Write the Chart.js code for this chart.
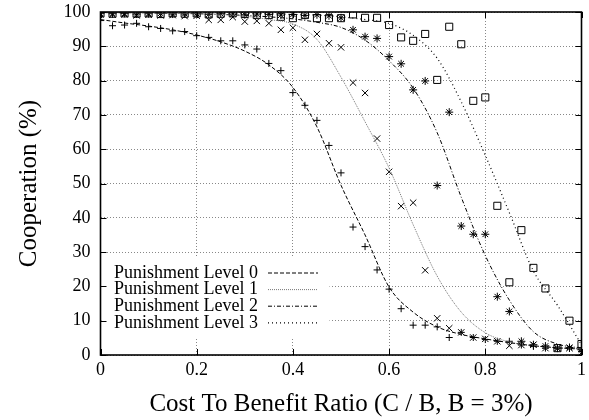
<!DOCTYPE html>
<html>
<head>
<meta charset="utf-8">
<script src="https://cdn.jsdelivr.net/npm/chart.js@4.4.0/dist/chart.umd.min.js"></script>
<style>
    html, body { margin: 0; padding: 0; background: #fff; }
    #wrap { width: 589px; height: 420px; }
</style>
</head>
<body>
<div id="wrap"><canvas id="coopChart" width="589" height="420"></canvas></div>
<script>
// x positions of the simulation runs (cost / benefit ratio)
const runX = [0, 0.025, 0.05, 0.075, 0.1, 0.125, 0.15, 0.175, 0.2, 0.225, 0.25, 0.275, 0.3, 0.325,
    0.35, 0.375, 0.4, 0.425, 0.45, 0.475, 0.5, 0.525, 0.55, 0.575, 0.6, 0.625, 0.65, 0.675, 0.7,
    0.725, 0.75, 0.775, 0.8, 0.825, 0.85, 0.875, 0.9, 0.925, 0.95, 0.975, 1];

// measured cooperation (%) for each punishment level
const level0Runs = [97.5, 96.0, 96.2, 96.7, 95.7, 95.2, 94.5, 94.3, 93.1, 92.6, 91.6, 91.6, 90.4, 89.2,
    85.0, 82.9, 76.5, 72.8, 68.4, 61.1, 53.1, 37.3, 31.6, 24.8, 19.2, 13.5, 8.7, 8.7, 8.2,
    5.1, 6.6, 5.1, 4.5, 4.0, 4.0, 2.9, 2.5, 2.0, 2.0, 1.9, 1.0];
const level1Runs = [99.3, 99.2, 99.3, 99.0, 99.2, 99.0, 99.1, 98.8, 98.9, 97.7, 97.7, 98.5, 97.2, 97.4,
    96.7, 94.8, 95.4, 91.9, 93.6, 90.9, 89.7, 79.4, 76.4, 63.1, 53.4, 43.4, 44.4, 24.7, 10.7,
    7.8, 6.6, 5.1, 4.7, 4.0, 2.7, 2.9, 3.0, 2.0, 2.0, 2.0, 0.7];
const level2Runs = [99.6, 99.5, 99.6, 99.4, 99.5, 99.6, 99.4, 99.5, 99.5, 99.3, 99.5, 99.4, 99.2, 99.4,
    99.3, 99.1, 99.3, 99.0, 99.2, 98.9, 98.3, 94.8, 92.8, 92.3, 87.0, 84.9, 77.3, 79.9, 49.4,
    70.8, 37.6, 35.2, 35.2, 17.0, 12.7, 4.0, 3.0, 2.6, 2.0, 2.2, 1.5];
const level3Runs = [99.6, 99.5, 99.6, 99.5, 99.6, 99.4, 99.6, 99.5, 99.6, 99.3, 99.5, 99.6, 99.4, 99.1,
    99.1, 98.6, 98.2, 99.1, 98.2, 98.2, 98.2, 99.3, 98.3, 98.3, 96.2, 92.6, 91.6, 93.6, 80.2,
    95.7, 90.6, 74.1, 75.1, 43.5, 21.2, 36.4, 25.4, 19.4, 2.0, 10.0, 3.2];

// fitted curves, every 0.05
const fitX = [0, 0.05, 0.1, 0.15, 0.2, 0.25, 0.3, 0.35, 0.4, 0.45, 0.5, 0.55, 0.6, 0.65, 0.7,
    0.75, 0.8, 0.85, 0.9, 0.95, 1];
const level0Fit = [97.8, 96.8, 95.9, 94.8, 93.3, 91.3, 88.6, 84.6, 78.0, 66.5, 49.5, 35.0, 19.8, 12.5,
    8.2, 6.0, 4.7, 3.6, 2.7, 2.1, 1.7];
const level1Fit = [99.8, 99.8, 99.7, 99.6, 99.5, 99.3, 98.8, 97.8, 96.5, 92.0, 81.0, 68.0, 54.5, 38.0,
    23.0, 12.5, 6.5, 3.8, 2.7, 2.1, 1.8];
const level2Fit = [99.8, 99.8, 99.7, 99.6, 99.5, 99.3, 99.0, 98.6, 98.0, 97.0, 95.5, 91.8, 85.8, 77.8,
    64.8, 46.0, 29.0, 16.0, 6.8, 3.2, 2.0];
const level3Fit = [99.9, 99.9, 99.9, 99.8, 99.8, 99.7, 99.6, 99.5, 99.3, 99.1, 98.6, 97.8, 96.7, 93.2,
    86.5, 73.8, 58.2, 41.5, 24.5, 14.5, 3.0];

const seriesNames = ['Punishment Level 0', 'Punishment Level 1', 'Punishment Level 2', 'Punishment Level 3'];
const xTicks = [0, 0.2, 0.4, 0.6, 0.8, 1];
const yTicks = [0, 10, 20, 30, 40, 50, 60, 70, 80, 90, 100];

const serif = '"Liberation Serif", "Times New Roman", serif';

function pairs(xs, ys) {
    return xs.map((x, i) => ({ x: x, y: ys[i] }));
}

// line looks for the 4 fits (same order as seriesNames)
const fitStyles = [
    { color: '#000', dash: [4, 2], width: 1 },
    { color: '#777', dash: [1, 1], width: 1 },
    { color: '#000', dash: [4, 2, 1, 2], width: 1 },
    { color: '#000', dash: [1, 3], width: 1.2 }
];
const markStyles = [
    { style: 'cross', r: 3.5 },
    { style: 'crossRot', r: 4.5 },
    { style: 'star', r: 4 },
    { style: 'rect', r: 5 }
];

const fits = [level0Fit, level1Fit, level2Fit, level3Fit];
const runs = [level0Runs, level1Runs, level2Runs, level3Runs];

const datasets = [];
fits.forEach((ys, i) => {
    datasets.push({
        label: seriesNames[i],
        data: pairs(fitX, ys),
        showLine: true,
        borderColor: fitStyles[i].color,
        borderWidth: fitStyles[i].width,
        borderDash: fitStyles[i].dash,
        cubicInterpolationMode: 'monotone',
        pointRadius: 0,
        fill: false
    });
});
runs.forEach((ys, i) => {
    datasets.push({
        label: seriesNames[i] + ' runs',
        data: pairs(runX, ys),
        showLine: false,
        pointStyle: markStyles[i].style,
        pointRadius: markStyles[i].r,
        pointBorderColor: '#000',
        pointBackgroundColor: 'rgba(0,0,0,0)',
        pointBorderWidth: 1
    });
});

// gnuplot style frame: key box inside the plot, border and inward ticks
const gnuFrame = {
    id: 'gnuFrame',
    beforeDatasetsDraw(chart) {
        const ctx = chart.ctx;
        const a = chart.chartArea;
        ctx.save();
        ctx.fillStyle = '#fff';
        ctx.fillRect(a.left + 1, 258, 228, 80);
        ctx.font = '18px ' + serif;
        ctx.textAlign = 'right';
        ctx.textBaseline = 'middle';
        seriesNames.forEach((name, i) => {
            const y = 273 + i * 16.6;
            ctx.fillStyle = '#000';
            ctx.fillText(name, 258, y);
            ctx.strokeStyle = fitStyles[i].color;
            ctx.lineWidth = fitStyles[i].width;
            ctx.setLineDash(fitStyles[i].dash);
            ctx.beginPath();
            ctx.moveTo(268, y);
            ctx.lineTo(318, y);
            ctx.stroke();
        });
        ctx.restore();
    },
    afterDraw(chart) {
        const ctx = chart.ctx;
        const a = chart.chartArea;
        const xs = chart.scales.x, ys = chart.scales.y;
        ctx.save();
        ctx.strokeStyle = '#000';
        ctx.lineWidth = 1;
        ctx.setLineDash([]);
        ctx.beginPath();
        xTicks.forEach(v => {
            const p = Math.round(xs.getPixelForValue(v)) + 0.5;
            ctx.moveTo(p, a.bottom); ctx.lineTo(p, a.bottom - 6);
            ctx.moveTo(p, a.top); ctx.lineTo(p, a.top + 6);
        });
        yTicks.forEach(v => {
            const p = Math.round(ys.getPixelForValue(v)) + 0.5;
            ctx.moveTo(a.left, p); ctx.lineTo(a.left + 6, p);
            ctx.moveTo(a.right, p); ctx.lineTo(a.right - 6, p);
        });
        ctx.stroke();
        ctx.lineWidth = 1.6;
        ctx.strokeRect(a.left, a.top, a.right - a.left, a.bottom - a.top);
        ctx.restore();
    }
};

const ctx = document.getElementById('coopChart').getContext('2d');
const coopChart = new Chart(ctx, {
    type: 'scatter',
    data: { datasets: datasets },
    options: {
        responsive: false,
        animation: false,
        devicePixelRatio: 1,
        layout: { padding: { top: 12, right: 7.5, left: 0, bottom: 0 } },
        plugins: {
            legend: { display: false },
            tooltip: { enabled: false }
        },
        scales: {
            x: {
                type: 'linear',
                min: 0,
                max: 1,
                afterBuildTicks: s => { s.ticks = xTicks.map(v => ({ value: v })); },
                afterFit: s => {
                    s.height = 65;
                    s.paddingLeft = 0;
                    s.paddingRight = 0;
                },
                ticks: {
                    color: '#000',
                    font: { family: serif, size: 18 },
                    padding: 4,
                    maxRotation: 0,
                    callback: v => String(v)
                },
                grid: { color: '#888', lineWidth: 1, drawTicks: false },
                border: { display: false, dash: [1, 2] },
                title: {
                    display: true,
                    text: 'Cost To Benefit Ratio (C / B, B = 3%)',
                    color: '#000',
                    font: { family: serif, size: 25 },
                    padding: { top: 0, bottom: 1 }
                }
            },
            y: {
                type: 'linear',
                min: 0,
                max: 100,
                afterBuildTicks: s => { s.ticks = yTicks.map(v => ({ value: v })); },
                afterFit: s => {
                    s.width = 100.5;
                    s.paddingTop = 0;
                    s.paddingBottom = 0;
                },
                ticks: { color: '#000', font: { family: serif, size: 18 }, padding: 10 },
                grid: { color: '#888', lineWidth: 1, drawTicks: false },
                border: { display: false, dash: [1, 2] },
                title: {
                    display: true,
                    text: 'Cooperation (%)',
                    color: '#000',
                    font: { family: serif, size: 25 },
                    padding: { top: 14, bottom: 14 }
                }
            }
        }
    },
    plugins: [gnuFrame]
});
</script>
</body>
</html>
